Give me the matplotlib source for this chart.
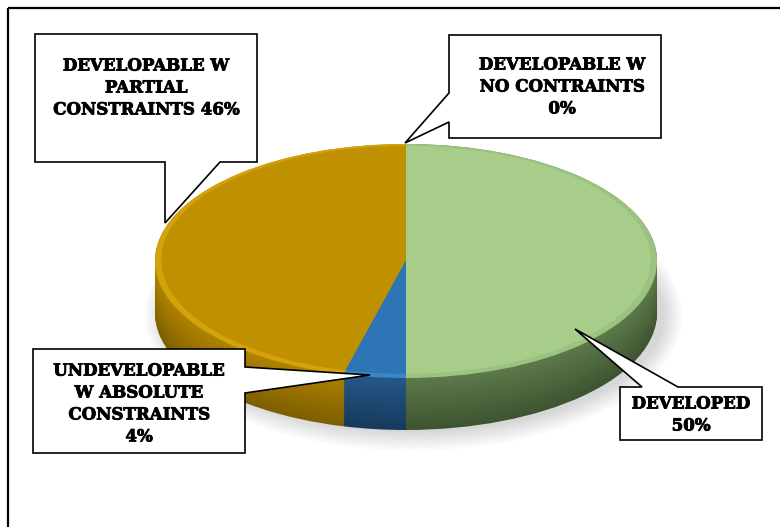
import numpy as np
import matplotlib
matplotlib.use("Agg")
import matplotlib.pyplot as plt
import matplotlib.patheffects as pe
from matplotlib.patches import Polygon, Ellipse, Rectangle
from matplotlib.colors import to_rgb

# datos del grafico
categorias = ["DEVELOPED", "UNDEVELOPABLE\nW ABSOLUTE\nCONSTRAINTS", "DEVELOPABLE W\nPARTIAL\nCONSTRAINTS", "DEVELOPABLE W\nNO CONTRAINTS"]
valores = [50, 4, 46, 0]
etiquetas = ["DEVELOPED\n50%", "UNDEVELOPABLE\nW ABSOLUTE\nCONSTRAINTS\n4%",
             "DEVELOPABLE W\nPARTIAL\nCONSTRAINTS 46%", "DEVELOPABLE W\nNO CONTRAINTS\n0%"]
col_cara = ["#a8cd8b", "#2e75b6", "#bf9000", "#f2c200"]
col_borde = ["#9cc27f", "#3b86c8", "#d4a20a", "#f2c200"]
col_lado_claro = ["#5d7a4b", "#24588a", "#b08400", "#d0a800"]
col_lado_osc = ["#3e5431", "#173a5c", "#7d5e00", "#9c7e00"]

W, H = 780, 527
fig = plt.figure(figsize=(W / 100, H / 100), dpi=100)

# --- pastel pseudo-3D (elipse en ejes estirados) ---
rx, ry, prof = 251, 117, 52
cx, cy = 406, 261
d = prof / ry
ax = fig.add_axes([(cx - rx) / W, 1 - (cy + ry + prof) / H, 2 * rx / W, (2 * ry + prof) / H])
ax.set_zorder(1)

# sombra suave
for k in range(8):
    ax.add_patch(Ellipse((0.03, -d - 0.02), 2.0 + 0.02 * k, 2.0 + 0.045 * k,
                         facecolor="k", alpha=0.02, lw=0, clip_on=False))

capas = np.linspace(d, 0, 40)
for i, off in enumerate(capas):
    f = 1 - i / (len(capas) - 1)
    cols = [tuple(np.array(to_rgb(a)) * (1 - f) + np.array(to_rgb(b)) * f)
            for a, b in zip(col_lado_claro, col_lado_osc)]
    ax.pie(valores, colors=cols, startangle=90, counterclock=False, radius=1,
           center=(0, -off), wedgeprops=dict(linewidth=0), frame=True)
ax.pie(valores, colors=col_borde, startangle=90, counterclock=False, radius=1,
       center=(0, 0), wedgeprops=dict(linewidth=0), frame=True)
ax.pie(valores, colors=col_cara, startangle=90, counterclock=False, radius=0.975,
       center=(0, 0.01), wedgeprops=dict(linewidth=0), frame=True)
ax.set_aspect("auto")
ax.set_xlim(-1, 1)
ax.set_ylim(-1 - d, 1)
ax.axis("off")

# --- capa de anotaciones en pixeles ---
ov = fig.add_axes([0, 0, 1, 1])
ov.set_zorder(2)
ov.patch.set_alpha(0)
ov.set_xlim(0, W)
ov.set_ylim(H, 0)
ov.axis("off")

ov.add_patch(Rectangle((8, 8), W + 20, H + 20, fill=False, ec="black", lw=1.6))

llamadas = [
    [(620, 387), (642, 387), (575, 329), (678, 387), (762, 387), (762, 440), (620, 440)],
    [(33, 349), (245, 349), (245, 367), (370, 375), (245, 393), (245, 453), (33, 453)],
    [(35, 34), (257, 34), (257, 162), (220, 162), (165, 223), (165, 162), (35, 162)],
    [(449, 35), (661, 35), (661, 138), (449, 138), (449, 122), (405, 143), (449, 93)],
]
pos_texto = [(691, 415), (139, 404), (146, 88), (562, 87)]
for poly, (tx, ty), txt in zip(llamadas, pos_texto, etiquetas):
    ov.add_patch(Polygon(poly, closed=True, fc="white", ec="black", lw=1.2, joinstyle="miter"))
    ov.text(tx, ty, txt, ha="center", va="center", fontsize=12, fontweight="bold",
            family="DejaVu Serif", linespacing=1.38,
            path_effects=[pe.withStroke(linewidth=0.6, foreground="black")])

fig.savefig("out.png", dpi=100)
